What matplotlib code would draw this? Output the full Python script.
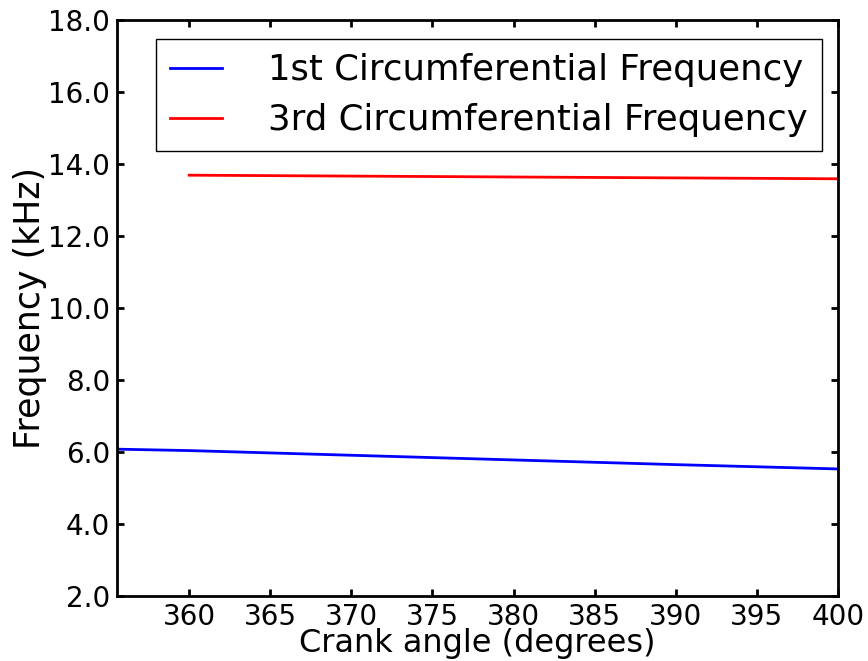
import matplotlib
matplotlib.use("Agg")
import matplotlib.pyplot as plt

crank_1st = [355.5, 360, 370, 380, 390, 400]
freq_1st = [6.08, 6.04, 5.91, 5.78, 5.65, 5.53]
crank_3rd = [360, 370, 380, 390, 400]
freq_3rd = [13.69, 13.665, 13.64, 13.615, 13.59]
xticks = [360, 365, 370, 375, 380, 385, 390, 395, 400]
yticks = [2, 4, 6, 8, 10, 12, 14, 16, 18]

fig = plt.figure(figsize=(8.68, 6.61), dpi=100)
ax = fig.add_axes([0.1348, 0.0983, 0.8306, 0.8714])
ax.plot(crank_1st, freq_1st, color="blue", lw=2, label="1st Circumferential Frequency")
ax.plot(crank_3rd, freq_3rd, color="red", lw=2, label="3rd Circumferential Frequency")
ax.set_xlim(355.55, 400)
ax.set_ylim(2, 18)
ax.set_xticks(xticks)
ax.set_yticks(yticks)
ax.set_yticklabels([f"{v:.1f}" for v in yticks])
ax.tick_params(direction="in", top=True, right=True, labelsize=20, length=5, width=2, pad=5)
for s in ax.spines.values():
    s.set_linewidth(2)
ax.set_xlabel("Crank angle (degrees)", fontsize=23, labelpad=-2)
ax.set_ylabel("Frequency (kHz)", fontsize=25, labelpad=1)
leg = ax.legend(loc="upper right", bbox_to_anchor=(1, 0.995), fontsize=25.6, fancybox=False,
                framealpha=1, edgecolor="black", borderpad=0.4, handlelength=1.45,
                handletextpad=1.3, labelspacing=0.45, borderaxespad=0.45)
leg.get_frame().set_linewidth(1)
fig.savefig("out.png", dpi=100)
